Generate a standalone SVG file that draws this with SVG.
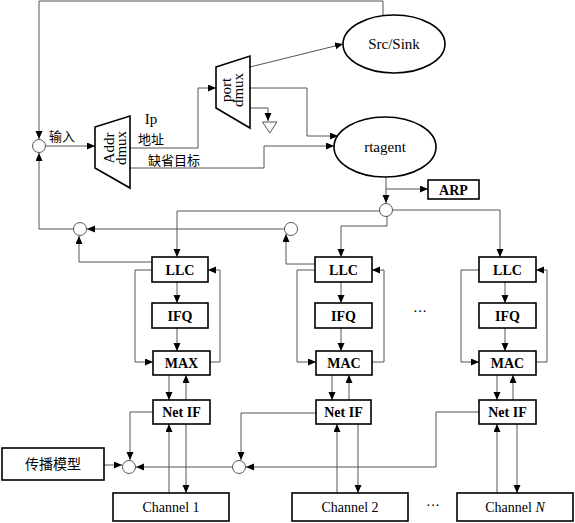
<svg xmlns="http://www.w3.org/2000/svg" width="575" height="523" viewBox="0 0 575 523">
<defs>
<marker id="ah" markerUnits="userSpaceOnUse" markerWidth="9" markerHeight="8" refX="8" refY="3.5" orient="auto">
<path d="M0,0 L8,3.5 L0,7 z" fill="#000"/>
</marker>
<style>
.c{fill:none;stroke:#555;stroke-width:1}
.a{marker-end:url(#ah)}
.b{fill:#fff;stroke:#000;stroke-width:1.6}
.j{fill:#fff;stroke:#555;stroke-width:1}
.t{font-family:"Liberation Serif",serif;font-size:14px;fill:#000;text-anchor:middle}
.tb{font-family:"Liberation Serif",serif;font-size:14px;font-weight:bold;fill:#000;text-anchor:middle}
.z{font-family:"Noto Sans CJK SC","Noto Sans",sans-serif;font-size:13px;fill:#000}
</style>
</defs>
<rect width="575" height="523" fill="#fff"/>
<g id="connectors">
<path class="c a" d="M383,15 V1 H39 V139"/>
<path class="c a" d="M73.5,229 H39 V153"/>
<path class="c a" d="M45.5,146 H95"/>
<path class="c a" d="M130,148 H198 V88 H216"/>
<path class="c a" d="M130,168 H264 V146 H334"/>
<path class="c a" d="M250,67 L343,44"/>
<path class="c a" d="M250,88 H307 V136 H338"/>
<path class="c a" d="M250,108 H268 V121"/>
<path class="c a" d="M386,177 V203"/>
<path class="c a" d="M386,189 H428"/>
<path class="c a" d="M380,211 H177 V257"/>
<path class="c a" d="M387,216 V226 H341 V257"/>
<path class="c a" d="M392.5,210 H500 V257"/>
<path class="c a" d="M284.5,229 H87"/>
<path class="c a" d="M152,262 H79 V236"/>
<path class="c a" d="M315,264 H286 V234"/>
<path class="c a" d="M177,282 V303"/>
<path class="c a" d="M177,328 V351"/>
<path class="c a" d="M152,270 H135 V362 H153"/>
<path class="c a" d="M210,362 H220 V270 H208"/>
<path class="c a" d="M169,375 V400"/>
<path class="c a" d="M186,400 V375"/>
<path class="c a" d="M169,493 V424"/>
<path class="c a" d="M186,424 V493"/>
<path class="c a" d="M341,282 V303"/>
<path class="c a" d="M341,328 V351"/>
<path class="c a" d="M315,270 H297 V362 H316"/>
<path class="c a" d="M372,362 H384 V270 H372"/>
<path class="c a" d="M332,375 V400"/>
<path class="c a" d="M349,400 V375"/>
<path class="c a" d="M337,493 V424"/>
<path class="c a" d="M358,424 V493"/>
<path class="c a" d="M505,282 V303"/>
<path class="c a" d="M505,328 V351"/>
<path class="c a" d="M479,270 H461 V362 H479"/>
<path class="c a" d="M536,362 H547 V270 H536"/>
<path class="c a" d="M497,375 V400"/>
<path class="c a" d="M513,400 V375"/>
<path class="c a" d="M497,493 V424"/>
<path class="c a" d="M517,424 V493"/>
<path class="c a" d="M153,412 H130 V460"/>
<path class="c a" d="M104,465 H122"/>
<path class="c a" d="M232.5,467 H136"/>
<path class="c a" d="M316,413 H241 V460"/>
<path class="c a" d="M479,412 H436 V467 H246"/>
</g>
<g id="junctions">
<circle class="j" cx="39" cy="146" r="6.5"/>
<circle class="j" cx="80" cy="229" r="6.5"/>
<circle class="j" cx="291" cy="229" r="6.5"/>
<circle class="j" cx="386" cy="210" r="6.5"/>
<circle class="j" cx="129" cy="467" r="6.5"/>
<circle class="j" cx="239" cy="467" r="6.5"/>
</g>
<g id="ground"><polygon class="j" points="262.5,122 277,122 269.8,133"/></g>
<g id="labels">
<text class="z" x="49" y="141">输入</text>
<text class="t" x="151" y="124" style="font-size:15px">Ip</text>
<text class="z" x="138" y="144">地址</text>
<text class="z" x="148" y="165">缺省目标</text>
</g>
<g id="addr-dmux">
<polygon class="b" points="95,127 130,116 130,188 95,168"/>
<text class="t" style="font-size:15px" transform="translate(113,148) rotate(-90)"><tspan x="0" y="1">Addr</tspan><tspan x="0" y="13">dmux</tspan></text>
</g>
<g id="port-dmux">
<polygon class="b" points="216,67 250,56 250,128 216,108"/>
<text class="t" style="font-size:15px" transform="translate(233,90) rotate(-90)"><tspan x="0" y="-2">port</tspan><tspan x="0" y="10">dmux</tspan></text>
</g>
<g id="src-sink">
<ellipse class="b" cx="394" cy="44" rx="51" ry="29"/>
<text class="t" x="394" y="49" style="font-size:15px">Src/Sink</text>
</g>
<g id="rtagent">
<ellipse class="b" cx="385" cy="147" rx="51" ry="30"/>
<text class="t" x="385" y="152" style="font-size:15px">rtagent</text>
</g>
<g id="arp">
<rect class="b" x="428" y="180" width="51" height="19"/>
<text class="tb" x="453.5" y="194.5">ARP</text>
</g>
<g id="llc1"><rect class="b" x="152" y="257" width="56" height="25"/><text class="tb" x="180" y="274.5">LLC</text></g>
<g id="ifq1"><rect class="b" x="152" y="303" width="56" height="25"/><text class="tb" x="180" y="320.5">IFQ</text></g>
<g id="max1"><rect class="b" x="153" y="351" width="57" height="24"/><text class="tb" x="181.5" y="368">MAX</text></g>
<g id="netif1"><rect class="b" x="153" y="400" width="57" height="24"/><text class="tb" x="181.5" y="417">Net IF</text></g>
<g id="channel1"><rect class="b" x="113" y="493" width="116" height="28"/><text class="t" x="171" y="512">Channel 1</text></g>
<g id="llc2"><rect class="b" x="315" y="257" width="57" height="25"/><text class="tb" x="343.5" y="274.5">LLC</text></g>
<g id="ifq2"><rect class="b" x="315" y="303" width="57" height="25"/><text class="tb" x="343.5" y="320.5">IFQ</text></g>
<g id="mac2"><rect class="b" x="316" y="351" width="56" height="24"/><text class="tb" x="344" y="368">MAC</text></g>
<g id="netif2"><rect class="b" x="316" y="400" width="55" height="24"/><text class="tb" x="343.5" y="417">Net IF</text></g>
<g id="channel2"><rect class="b" x="292" y="493" width="116" height="28"/><text class="t" x="350" y="512">Channel 2</text></g>
<g id="llc3"><rect class="b" x="479" y="257" width="57" height="25"/><text class="tb" x="507.5" y="274.5">LLC</text></g>
<g id="ifq3"><rect class="b" x="479" y="303" width="57" height="25"/><text class="tb" x="507.5" y="320.5">IFQ</text></g>
<g id="mac3"><rect class="b" x="479" y="351" width="57" height="24"/><text class="tb" x="507.5" y="368">MAC</text></g>
<g id="netif3"><rect class="b" x="479" y="400" width="57" height="24"/><text class="tb" x="507.5" y="417">Net IF</text></g>
<g id="channelN"><rect class="b" x="457" y="493" width="116" height="28"/><text class="t" x="515" y="512">Channel <tspan font-style="italic">N</tspan></text></g>
<g id="propagation"><rect class="b" x="2" y="448" width="102" height="32"/><text class="z" x="53" y="469" text-anchor="middle" style="font-size:14px">传播模型</text></g>
<g id="dots">
<text class="t" x="420" y="316">···</text>
<text class="t" x="433" y="510">···</text>
</g>
</svg>
